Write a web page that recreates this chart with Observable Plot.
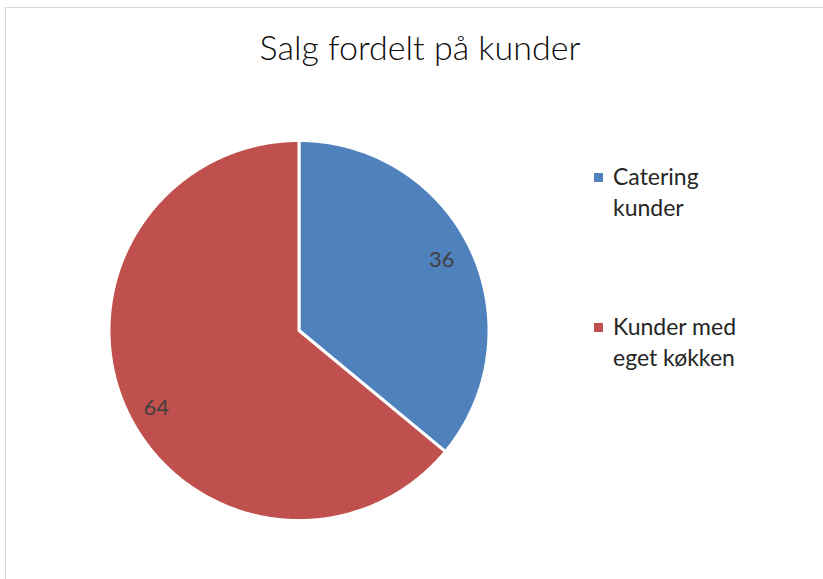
<!DOCTYPE html>
<html>
<head>
<meta charset="utf-8">
<script src="https://cdn.jsdelivr.net/npm/d3@7"></script>
<script src="https://cdn.jsdelivr.net/npm/@observablehq/plot@0.6"></script>
<style>
  html, body { margin: 0; padding: 0; background: #fff; }
  #wrap { position: relative; width: 823px; height: 579px; overflow: hidden; font-family: Lato, "Open Sans", sans-serif; }
  #frame { position: absolute; left: 5px; top: 7px; width: 900px; height: 700px; border: 1.5px solid #d9d9d9; box-sizing: border-box; }
  #title { position: absolute; left: 0; width: 840px; top: 27px; text-align: center; font-size: 34px; font-weight: 300; color: #0d0d0d; line-height: 40px; }
  #chart { position: absolute; left: 0; top: 0; }
  .leg { position: absolute; left: 594px; font-size: 23px; color: #262626; line-height: 31px; }
  .leg .sw { position: absolute; left: 0; top: 12px; width: 9px; height: 9px; }
  .leg .tx { position: absolute; left: 19px; top: 0; white-space: nowrap; }
</style>
</head>
<body>
<div id="wrap">
  <div id="frame"></div>
  <div id="title"></div>
  <div id="chart"></div>
  <div id="legend"></div>
</div>
<script>
const title = "Salg fordelt på kunder";
const categories = ["Catering kunder", "Kunder med eget køkken"];
const legendLines = [["Catering", "kunder"], ["Kunder med", "eget køkken"]];
const values = [36, 64];
const colors = ["#4f81bd", "#c0504d"];

document.getElementById("title").textContent = title;

const arcs = d3.pie().sort(null).value(d => d.value)(
  categories.map((c, i) => ({category: c, value: values[i]}))
);

// polygon outlines for each slice (angle clockwise from 12 o'clock)
const poly = [];
arcs.forEach(a => {
  const c = a.data.category;
  poly.push({category: c, x: 0, y: 0});
  const n = Math.max(2, Math.ceil((a.endAngle - a.startAngle) / (Math.PI / 360)));
  for (let k = 0; k <= n; k++) {
    const t = a.startAngle + (a.endAngle - a.startAngle) * k / n;
    poly.push({category: c, x: Math.sin(t), y: Math.cos(t)});
  }
  poly.push({category: c, x: 0, y: 0});
});

const labelDy = [-3, 10];
const labels = arcs.map((a, i) => {
  const m = (a.startAngle + a.endAngle) / 2;
  return {label: String(a.data.value), x: 0.83 * Math.sin(m), y: 0.83 * Math.cos(m), dy: labelDy[i]};
});

const cx = 298.5, cy = 330, r = 190;
const plot = Plot.plot({
  width: 823,
  height: 579,
  margin: 0,
  style: {background: "transparent", overflow: "visible"},
  x: {domain: [-1, 1], range: [cx - r, cx + r], axis: null},
  y: {domain: [-1, 1], range: [cy + r, cy - r], axis: null},
  color: {domain: categories, range: colors},
  marks: [
    Plot.line(poly, {x: "x", y: "y", z: "category", fill: "category", stroke: "white", strokeWidth: 3, strokeLinejoin: "miter", curve: "linear"}),
    ...labels.map(l => Plot.text([l], {x: "x", y: "y", text: "label", dy: l.dy, fontSize: 22, fill: "#404040", fontFamily: "Lato, 'Open Sans', sans-serif"}))
  ]
});
document.getElementById("chart").appendChild(plot);

const legend = document.getElementById("legend");
const legTops = [161, 311];
legendLines.forEach((lines, i) => {
  const d = document.createElement("div");
  d.className = "leg";
  d.style.top = legTops[i] + "px";
  const sw = document.createElement("div");
  sw.className = "sw";
  sw.style.background = colors[i];
  d.appendChild(sw);
  const tx = document.createElement("div");
  tx.className = "tx";
  tx.innerHTML = lines.join("<br>");
  d.appendChild(tx);
  legend.appendChild(d);
});
</script>
</body>
</html>
